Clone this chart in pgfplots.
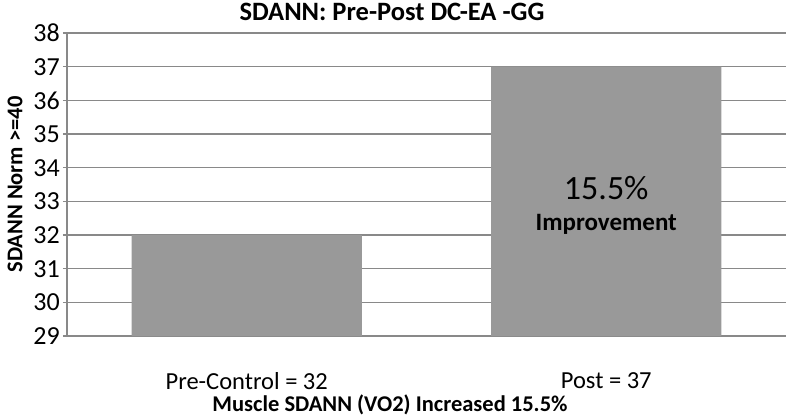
\documentclass[border=0pt]{standalone}
\usepackage{pgfplots}
\pgfplotsset{compat=1.18}
\usepackage{fontspec}
\setmainfont{Carlito}
\definecolor{bargray}{HTML}{999999}
\definecolor{gridgray}{HTML}{898989}
\begin{document}
\begin{tikzpicture}
\useasboundingbox (-67pt,-81pt) rectangle (719pt,336pt);
\begin{axis}[
  at={(0,0)}, anchor=south west,
  scale only axis,
  width=719pt, height=303pt,
  xmin=-0.5, xmax=1.5,
  ymin=29, ymax=38,
  ytick={29,30,...,38},
  xtick={0,1},
  xticklabels={Pre-Control = 32, Post = 37},
  xtick style={draw=none},
  ytick style={draw=gridgray, line width=1.3pt},
  tick align=outside,
  major tick length=4pt,
  axis x line*=bottom,
  axis y line*=left,
  axis line style={draw=gridgray, line width=1.3pt, -},
  ymajorgrids,
  grid style={draw=gridgray, line width=1.3pt},
  /pgf/number format/assume math mode=true,
  yticklabel style={font=\fontsize{26}{28}\selectfont, xshift=0pt, inner sep=3pt},
  xticklabel style={font=\fontsize{24.5}{28}\selectfont, anchor=center, yshift=-41pt},
  ybar, bar width=0.64,
]
\addplot[fill=bargray, draw=none] coordinates {(0,32) (1,37)};
\node[font=\fontsize{34}{38}\selectfont] at (axis cs:1,33.4) {15.5\%};
\node[font=\bfseries\fontsize{25}{28}\selectfont] at (axis cs:1,32.33) {Improvement};
\end{axis}
\node[font=\bfseries\fontsize{26.5}{30}\selectfont] at (325pt,324pt) {SDANN: Pre-Post DC-EA -GG};
\node[font=\bfseries\fontsize{22.5}{26}\selectfont, rotate=90] at (-52pt,151.5pt) {SDANN Norm >=40};
\node[font=\bfseries\fontsize{22.5}{26}\selectfont] at (323pt,-69pt) {Muscle SDANN (VO2) Increased 15.5\%};
\end{tikzpicture}
\end{document}
